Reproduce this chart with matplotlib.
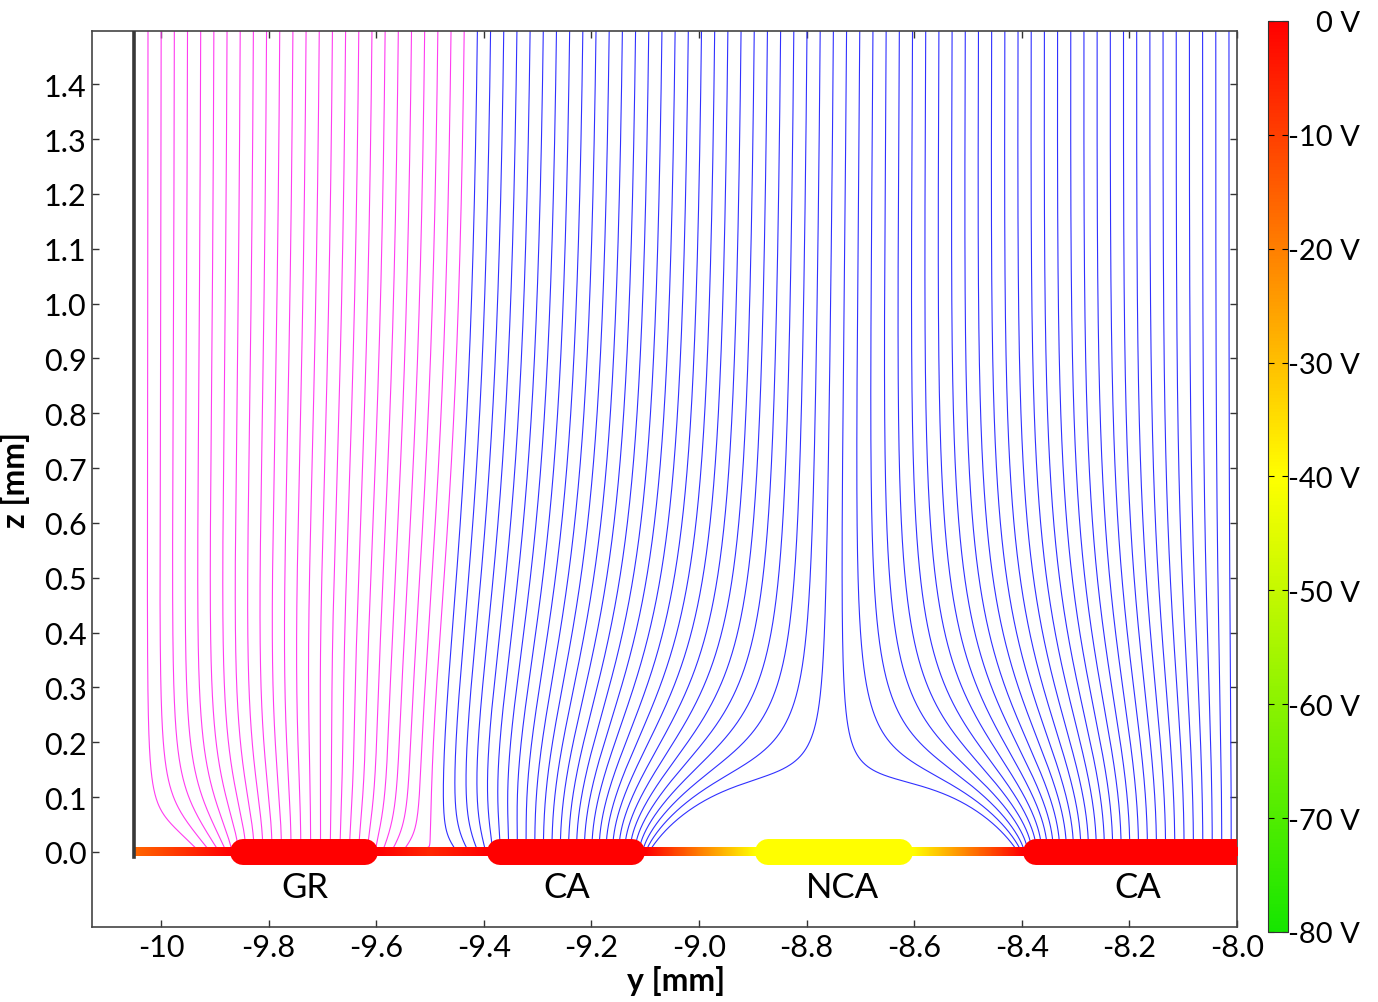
import numpy as np
import matplotlib
matplotlib.use("Agg")
import matplotlib.pyplot as plt
from matplotlib.colors import LinearSegmentedColormap, Normalize
from matplotlib.cm import ScalarMappable

# electrodes on the surface (mm, V)
electrode_names = ["GR", "CA", "NCA", "CA"]
electrode_lo = [-9.872, -9.394, -8.896, -8.398]
electrode_hi = [-9.597, -9.100, -8.602, -8.000]
electrode_volt = [0.0, 0.0, -40.0, 0.0]
label_pos = [-9.732, -9.245, -8.734, -8.184]

# surface potential profile, gaps in between (mm, V)
surface_y = [-10.05, -9.872, -9.597, -9.50, -9.394, -9.100, -8.896, -8.602, -8.398, -8.00]
surface_v = [-16.0, 0.0, 0.0, -6.0, 0.0, 0.0, -40.0, -40.0, 0.0, 0.0]

wall_y = -10.05
top_height = 5.0      # mm, planar cathode
top_volt = -400.0     # V

xticks = [-10.0, -9.8, -9.6, -9.4, -9.2, -9.0, -8.8, -8.6, -8.4, -8.2, -8.0]
xticklabels = ["-10", "-9.8", "-9.6", "-9.4", "-9.2", "-9.0", "-8.8", "-8.6", "-8.4", "-8.2", "-8.0"]
yticks = [0.0, 0.1, 0.2, 0.3, 0.4, 0.5, 0.6, 0.7, 0.8, 0.9, 1.0, 1.1, 1.2, 1.3, 1.4]
cbar_ticks = [0, -10, -20, -30, -40, -50, -60, -70, -80]

plt.rcParams["font.family"] = ["Lato", "DejaVu Sans"]

cmap = LinearSegmentedColormap.from_list("volt", ["#16e600", "#ffff00", "#ff0000"])
norm = Normalize(-80, 0)

# --- potential: Laplace in the box, Neumann side walls, cosine series
ya, yb = surface_y[0], surface_y[-1]
L = yb - ya
t = np.linspace(ya, yb, 8001)
v0 = np.interp(t, surface_y, surface_v)
k = np.arange(1, 251) * np.pi / L
a0 = np.trapezoid(v0, t) / L
an = 2 / L * np.trapezoid(v0[None, :] * np.cos(k[:, None] * (t - ya)[None, :]), t, axis=1)
g = (top_volt - a0) / top_height

gy = np.linspace(ya, yb, 1026)
gz = np.linspace(0, 1.6, 801)
ez = np.exp(-k[None, :] * gz[:, None])
rem = np.exp(-2 * k[None, :] * (top_height - gz[:, None]))
den = 1 - np.exp(-2 * k * top_height)
S = ez * (1 - rem) / den
C = ez * (1 + rem) / den
ak = an * k
dvdy = -(S * ak) @ np.sin(k[:, None] * (gy - ya)[None, :])
dvdz = g - (C * ak) @ np.cos(k[:, None] * (gy - ya)[None, :])
dy_g = gy[1] - gy[0]
dz_g = gz[1] - gz[0]


def bilin(F, y, z):
    fy = (y - ya) / dy_g
    fz = z / dz_g
    i = np.clip(np.floor(fy).astype(int), 0, len(gy) - 2)
    j = np.clip(np.floor(fz).astype(int), 0, len(gz) - 2)
    ty = np.clip(fy - i, 0, 1)
    tz = np.clip(fz - j, 0, 1)
    return (F[j, i] * (1 - ty) * (1 - tz) + F[j, i + 1] * ty * (1 - tz)
            + F[j + 1, i] * (1 - ty) * tz + F[j + 1, i + 1] * ty * tz)


def direc(y, z):
    u = bilin(dvdy, y, z)
    w = bilin(dvdz, y, z)
    s = np.hypot(u, w) + 1e-12
    return u / s, w / s


# electrons drift up the potential gradient, seeded along the top
y = np.arange(-10.024, -8.0, 0.0245)
z = np.full_like(y, 1.52)
alive = np.ones(len(y), bool)
hist_y, hist_z = [y.copy()], [z.copy()]
ds = 0.002
for step in range(3000):
    k1 = direc(y, z)
    k2 = direc(y + ds / 2 * k1[0], z + ds / 2 * k1[1])
    k3 = direc(y + ds / 2 * k2[0], z + ds / 2 * k2[1])
    k4 = direc(y + ds * k3[0], z + ds * k3[1])
    yn = y + ds / 6 * (k1[0] + 2 * k2[0] + 2 * k3[0] + k4[0])
    zn = z + ds / 6 * (k1[1] + 2 * k2[1] + 2 * k3[1] + k4[1])
    y = np.where(alive, np.clip(yn, ya, yb), y)
    z = np.where(alive, np.maximum(zn, 0.0), z)
    alive &= z > 0
    hist_y.append(y.copy())
    hist_z.append(z.copy())
    if not alive.any():
        break
hist_y = np.array(hist_y)
hist_z = np.array(hist_z)

fig = plt.figure(figsize=(13.78, 10.03), dpi=100)
ax = fig.add_axes([0.0668, 0.0748, 0.8309, 0.8933])

for i in range(hist_y.shape[1]):
    zi = hist_z[:, i]
    end = np.argmax(zi <= 0) if (zi <= 0).any() else len(zi) - 1
    col = "#ff3cf0" if hist_y[end, i] < -9.50 else "#3030ff"
    ax.plot(hist_y[:end + 1, i], zi[:end + 1], color=col, lw=0.8, zorder=2)

# resistive strip coloured by surface potential
strip = np.interp(np.linspace(ya, yb, 600), surface_y, surface_v)[None, :]
ax.imshow(strip, cmap=cmap, norm=norm, aspect="auto", extent=[ya, yb, -0.008, 0.0075],
          interpolation="bilinear", zorder=3)

cap = 13 / 538
for lo, hi, v in zip(electrode_lo, electrode_hi, electrode_volt):
    hi_d = hi - cap if hi < -8.0 else hi + 0.1
    ax.plot([lo + cap, hi_d], [0, 0], color=cmap(norm(v)), lw=18.7,
            solid_capstyle="round", zorder=4)

for name, xp in zip(electrode_names, label_pos):
    ax.text(xp, -0.065, name, ha="center", va="center", fontsize=25, zorder=5)

ax.plot([wall_y, wall_y], [-0.009, 1.6], color="#383838", lw=2.6, zorder=5)

ax.set_xlim(-10.128, -8.0)
ax.set_ylim(-0.137, 1.497)
ax.set_xticks(xticks)
ax.set_xticklabels(xticklabels)
ax.set_yticks(yticks)
ax.set_yticklabels([f"{v:.1f}" for v in yticks])
ax.tick_params(direction="in", length=5, width=1, top=True, right=True,
               labelsize=22, pad=4, color="#333333")
for sp in ax.spines.values():
    sp.set_color("#444444")
    sp.set_linewidth(1.2)
ax.set_xlabel("y [mm]", fontsize=23, fontweight="bold")
ax.set_ylabel("z [mm]", fontsize=23, fontweight="bold")
ax.xaxis.set_label_coords(0.51, -0.042)
ax.yaxis.set_label_coords(-0.054, 0.5)

cax = fig.add_axes([0.9202, 0.0698, 0.0145, 0.9083])
sm = ScalarMappable(norm=norm, cmap=cmap)
cb = fig.colorbar(sm, cax=cax, ticks=cbar_ticks)
cb.set_ticklabels([f"{v} V" for v in cbar_ticks])
cb.outline.set_edgecolor("#333333")
cax.tick_params(direction="in", length=4, left=True, right=True, labelsize=21, pad=52)
for lab in cax.get_yticklabels():
    lab.set_horizontalalignment("right")

fig.savefig("out.png", dpi=100)
